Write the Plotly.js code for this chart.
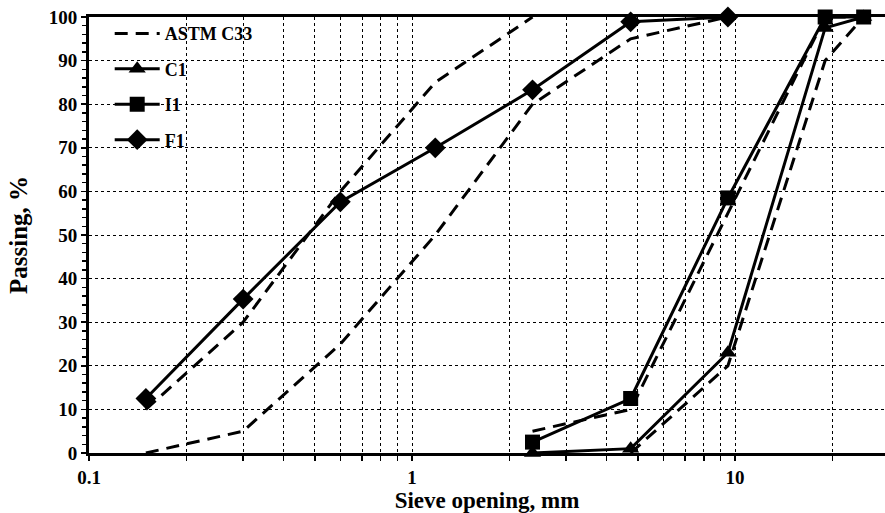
<!DOCTYPE html>
<html>
<head>
<meta charset="utf-8">
<script src="https://cdn.plot.ly/plotly-3.0.1.min.js"></script>
<style>
  html, body { margin: 0; padding: 0; background: #fff; }
  #chart { width: 885px; height: 513px; }
</style>
</head>
<body>
<div id="chart"></div>
<script>
// Sieve sizes (mm)
const sieveC1 = [2.36, 4.75, 9.5, 19, 25];
const passC1  = [0, 1, 23, 97.5, 100];

const sieveI1 = [2.36, 4.75, 9.5, 19, 25];
const passI1  = [2.5, 12.5, 58.5, 100, 100];

const sieveF1 = [0.15, 0.3, 0.6, 1.18, 2.36, 4.75, 9.5];
const passF1  = [12.5, 35.3, 57.6, 70, 83.3, 98.9, 100];

// ASTM C33 grading limits
const fineUpperSieve = [0.15, 0.3, 0.6, 1.18, 2.36];
const fineUpperPass  = [10, 30, 60, 85, 100];
const fineLowerSieve = [0.15, 0.3, 0.6, 1.18, 2.36, 4.75, 9.5];
const fineLowerPass  = [0, 5, 25, 50, 80, 95, 100];
const coarseUpperSieve = [2.36, 4.75, 9.5, 19, 25];
const coarseUpperPass  = [5, 10, 55, 100, 100];
const coarseLowerSieve = [4.75, 9.5, 19, 25];
const coarseLowerPass  = [0, 20, 90, 100];

// Axis ticks
const xTickVals = [0.1,0.2,0.3,0.4,0.5,0.6,0.7,0.8,0.9,1,2,3,4,5,6,7,8,9,10,20];
const xTickText = xTickVals.map(v => (v === 0.1 || v === 1 || v === 10) ? String(v) : '');
const yTickVals = [0,10,20,30,40,50,60,70,80,90,100];

const serif = 'Liberation Serif, Times New Roman, serif';
const dashStyle = {color: '#000', width: 3, dash: '13px,8px'};
const solid = {color: '#000', width: 3};

const limits = [
  [fineUpperSieve, fineUpperPass],
  [fineLowerSieve, fineLowerPass],
  [coarseUpperSieve, coarseUpperPass],
  [coarseLowerSieve, coarseLowerPass]
];

const traces = limits.map((l, i) => ({
  x: l[0], y: l[1], type: 'scatter', mode: 'lines',
  name: 'ASTM C33', legendgroup: 'astm', showlegend: i === 0,
  line: dashStyle, hoverinfo: 'skip'
}));

traces.push({
  x: sieveC1, y: passC1, type: 'scatter', mode: 'lines+markers', name: 'C1',
  legendgroup: 'c1', line: solid, cliponaxis: false,
  marker: {symbol: 'triangle-up', size: 15, color: '#000'}
});
traces.push({
  x: sieveI1, y: passI1, type: 'scatter', mode: 'lines+markers', name: 'I1',
  legendgroup: 'i1', line: solid, cliponaxis: false,
  marker: {symbol: 'square', size: 15, color: '#000'}
});
traces.push({
  x: sieveF1, y: passF1, type: 'scatter', mode: 'lines+markers', name: 'F1',
  legendgroup: 'f1', line: solid, cliponaxis: false,
  marker: {symbol: 'diamond', size: 16, color: '#000'}
});

const layout = {
  width: 885, height: 513,
  margin: {l: 89, r: 0, t: 17, b: 60},
  paper_bgcolor: '#fff', plot_bgcolor: '#fff',
  font: {family: serif, color: '#000', size: 19, weight: 'bold'},
  showlegend: true,
  legend: {
    x: 0.026, y: 1.004, xanchor: 'left', yanchor: 'top',
    bgcolor: 'rgba(0,0,0,0)', borderwidth: 0,
    font: {family: serif, size: 18, color: '#000', weight: 'bold'},
    tracegroupgap: 9, traceorder: 'grouped', itemwidth: 45
  },
  xaxis: {
    type: 'log', range: [-1, 1.464],
    tickvals: xTickVals, ticktext: xTickText,
    ticks: 'outside', ticklen: 5, tickwidth: 1.5, tickcolor: '#000',
    showline: true, linecolor: '#000', linewidth: 3, mirror: true,
    showgrid: true, gridcolor: '#000', gridwidth: 1, griddash: 'dot',
    zeroline: false,
    tickfont: {family: serif, size: 19, weight: 'bold'},
    title: {text: 'Sieve opening, mm', font: {family: serif, size: 23, weight: 'bold'}, standoff: 0}
  },
  yaxis: {
    range: [0, 100], tickvals: yTickVals,
    ticks: 'outside', ticklen: 5, tickwidth: 1.5, tickcolor: '#000',
    minor: {dtick: 2, ticks: 'outside', ticklen: 4, tickwidth: 1.5, tickcolor: '#000', showgrid: false},
    showline: true, linecolor: '#000', linewidth: 3,
    showgrid: true, gridcolor: '#000', gridwidth: 1, griddash: 'dot',
    zeroline: false,
    tickfont: {family: serif, size: 19, weight: 'bold'},
    title: {text: 'Passing, %', font: {family: serif, size: 25, weight: 'bold'}, standoff: 14}
  },
  shapes: [{
    type: 'rect', xref: 'paper', yref: 'paper', layer: 'between',
    x0: 0.002, x1: 0.26, y0: 0.679, y1: 0.996,
    fillcolor: '#fff', line: {width: 0}
  }]
};

Plotly.newPlot('chart', traces, layout, {displayModeBar: false, staticPlot: true});
</script>
</body>
</html>
